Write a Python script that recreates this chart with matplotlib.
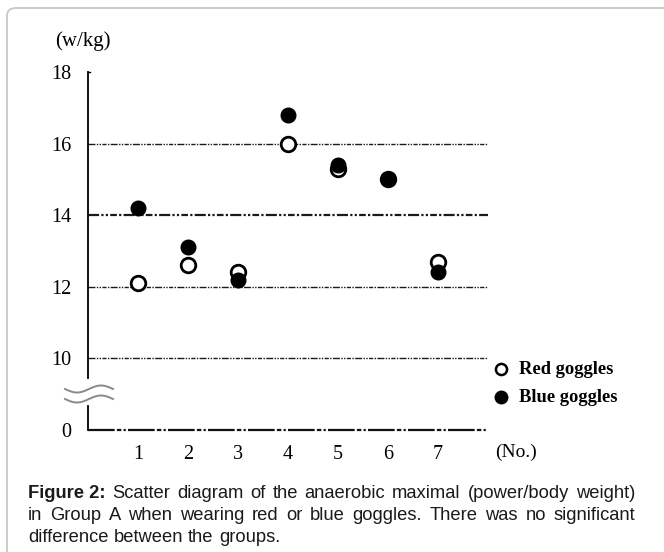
import numpy as np
import matplotlib
matplotlib.use('Agg')
import matplotlib.pyplot as plt
from matplotlib.lines import Line2D
from matplotlib.patches import FancyBboxPatch

## data
subjects = [1, 2, 3, 4, 5, 6, 7]
red_goggles = [12.1, 12.6, 12.4, 16.0, 15.3, 15.0, 12.7]
blue_goggles = [14.2, 13.1, 12.2, 16.8, 15.4, 15.0, 12.4]
grid_values = [10, 12, 14, 16]
ytick_pos = [8, 10, 12, 14, 16, 18]
ytick_labels = ['0', '10', '12', '14', '16', '18']

W, H = 664, 552
serif = 'Liberation Serif'
sans = 'Liberation Sans'

def fx(x):
    return x / W

def fy(y):
    return 1 - y / H

fig = plt.figure(figsize=(W / 100, H / 100), dpi=100)
fig.patch.set_facecolor('white')

# rounded frame around the figure
frame = FancyBboxPatch((fx(7), fy(580)), fx(700) - fx(7), fy(8) - fy(580),
                       boxstyle='round,pad=0,rounding_size=0.014',
                       transform=fig.transFigure, fc='none', ec='#c8c8c8', lw=1.3,
                       zorder=-5)
fig.add_artist(frame)

ax = fig.add_axes([fx(88), fy(430), fx(487.7) - fx(88), fy(72) - fy(430)])
ax.set_facecolor('none')
ax.set_xlim(0, 8)
ax.set_ylim(8, 18)
for s in ax.spines.values():
    s.set_visible(False)

# dash-dot-dot grid lines
dd = (0, (5, 1, 1, 1, 1, 1, 3, 1, 1, 1))
for g in grid_values:
    ax.axhline(g, color='#1a1a1a', lw=1.6 if g == 14 else 1.0, ls=dd, zorder=1)
ax.axhline(8, color='#111', lw=1.6, ls=(0, (12, 1, 2, 1, 1, 1)), zorder=1, clip_on=False)

# broken y axis
ax.plot([0, 0], [9.45, 18], color='black', lw=1.3, clip_on=False, zorder=2)
ax.plot([0, 0], [8, 8.67], color='black', lw=1.3, clip_on=False, zorder=2)
ax.plot([0, 0.05], [18, 18], color='black', lw=1.0, clip_on=False, zorder=2)

# break symbol
t = np.linspace(0, 1, 60)
for yc in [389, 399]:
    xs = 65 + 48 * t
    ys = yc + 3.5 * np.sin(2 * np.pi * t)
    fig.add_artist(Line2D(fx(xs), fy(ys), color='#8a8a8a', lw=1.4,
                          transform=fig.transFigure))

ax.plot(subjects, red_goggles, 'o', ms=10.5, mfc='white', mec='black', mew=2.0,
        zorder=3, clip_on=False)
ax.plot(subjects, blue_goggles, 'o', ms=10.5, mfc='black', mec='black', mew=1.0,
        zorder=4, clip_on=False)

ax.set_xticks(subjects)
ax.set_xticklabels([str(s) for s in subjects], fontfamily=serif, fontsize=14.5)
ax.set_yticks(ytick_pos)
ax.set_yticklabels(ytick_labels, fontfamily=serif, fontsize=14.5)
ax.tick_params(axis='both', length=0)
ax.tick_params(axis='y', pad=12)
ax.tick_params(axis='x', pad=11)

fig.text(fx(83), fy(41), '(w/kg)', fontfamily=serif, fontsize=15,
         ha='center', va='center')
fig.text(fx(495), fy(452), '(No.)', fontfamily=serif, fontsize=14,
         ha='left', va='center')

# legend
fig.add_artist(Line2D([fx(501)], [fy(369)], marker='o', ms=8, mfc='white',
                      mec='black', mew=1.8, transform=fig.transFigure))
fig.add_artist(Line2D([fx(501)], [fy(397)], marker='o', ms=9, mfc='black',
                      mec='black', transform=fig.transFigure))
fig.text(fx(519), fy(369), 'Red goggles', fontfamily=serif, fontweight='bold',
         fontsize=13.3, ha='left', va='center')
fig.text(fx(519), fy(397), 'Blue goggles', fontfamily=serif, fontweight='bold',
         fontsize=13.3, ha='left', va='center')

# caption, justified like the journal layout
caption = [
    ([('Figure 2:', 'bold')] +
     [(w, 'normal') for w in 'Scatter diagram of the anaerobic maximal (power/body weight)'.split()], True),
    ([(w, 'normal') for w in 'in Group A when wearing red or blue goggles. There was no significant'.split()], True),
    ([(w, 'normal') for w in 'difference between the groups.'.split()], False),
]
baselines = [498, 520, 542]
x0, x1 = 28, 635
renderer = fig.canvas.get_renderer()
cap_size = 13.2
for (words, justify), base in zip(caption, baselines):
    texts = [fig.text(0, fy(base), w, fontfamily=sans, fontsize=cap_size,
                      fontweight=wt, color='#1a1a1a', va='baseline', ha='left')
             for w, wt in words]
    widths = [tx.get_window_extent(renderer).width for tx in texts]
    space = fig.text(0, 0, 'a a', fontsize=cap_size, fontfamily=sans)
    sw = space.get_window_extent(renderer).width
    space.set_text('aa')
    sw -= space.get_window_extent(renderer).width
    space.remove()
    gap = (x1 - x0 - sum(widths)) / (len(words) - 1) if justify else sw
    x = x0
    for tx, w in zip(texts, widths):
        tx.set_x(fx(x))
        x += w + gap

fig.savefig('out.png', dpi=100)
